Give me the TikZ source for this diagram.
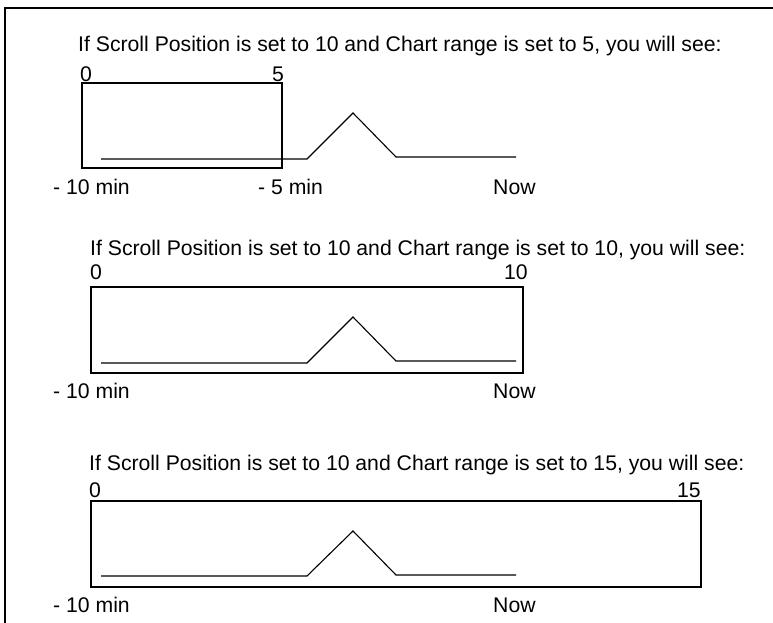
\documentclass[tikz,border=0pt]{standalone}
\usepackage{fontspec}
\setmainfont{Liberation Sans}
\begin{document}
\begin{tikzpicture}[x=1pt,y=-1pt,
  lbl/.style={anchor=base west,inner sep=0pt,font=\fontsize{21.2}{24}\selectfont},
  frame/.style={line width=2pt,line join=miter},
  chartbox/.style={line width=2pt},
  signal/.style={line width=1.1pt,line join=miter}]
\useasboundingbox (0,0) rectangle (773,623);
\draw[frame] (773,8) -- (5,8) -- (5,623);

% Panel 1
\node[lbl] (t1) at (78,52) {If Scroll Position is set to 10 and Chart range is set to 5, you will see:};
\node[lbl] (a1) at (80,82) {0};
\node[lbl] (b1) at (272,82) {5};
\draw[chartbox] (82,83) rectangle (282,168);
\draw[signal] (101,159) -- (307,159) -- (353,113) -- (396,157) -- (516,157);
\node[lbl] (l1) at (53,194) {- 10 min};
\node[lbl] (m1) at (258,194) {- 5 min};
\node[lbl] (n1) at (493,194) {Now};

% Panel 2
\node[lbl] (t2) at (90,255) {If Scroll Position is set to 10 and Chart range is set to 10, you will see:};
\node[lbl] (a2) at (90,279) {0};
\node[lbl] (b2) at (504,279) {10};
\draw[chartbox] (91,287) rectangle (523,373);
\draw[signal] (101,363) -- (307,363) -- (353,317) -- (396,361) -- (516,361);
\node[lbl] (l2) at (53,398) {- 10 min};
\node[lbl] (n2) at (493,398) {Now};

% Panel 3
\node[lbl] (t3) at (89,470) {If Scroll Position is set to 10 and Chart range is set to 15, you will see:};
\node[lbl] (a3) at (89,497) {0};
\node[lbl] (b3) at (677,497) {15};
\draw[chartbox] (91,501) rectangle (701,587);
\draw[signal] (101,576) -- (307,576) -- (353,531) -- (396,575) -- (516,575);
\node[lbl] (l3) at (53,612) {- 10 min};
\node[lbl] (n3) at (493,612) {Now};
\end{tikzpicture}
\end{document}
